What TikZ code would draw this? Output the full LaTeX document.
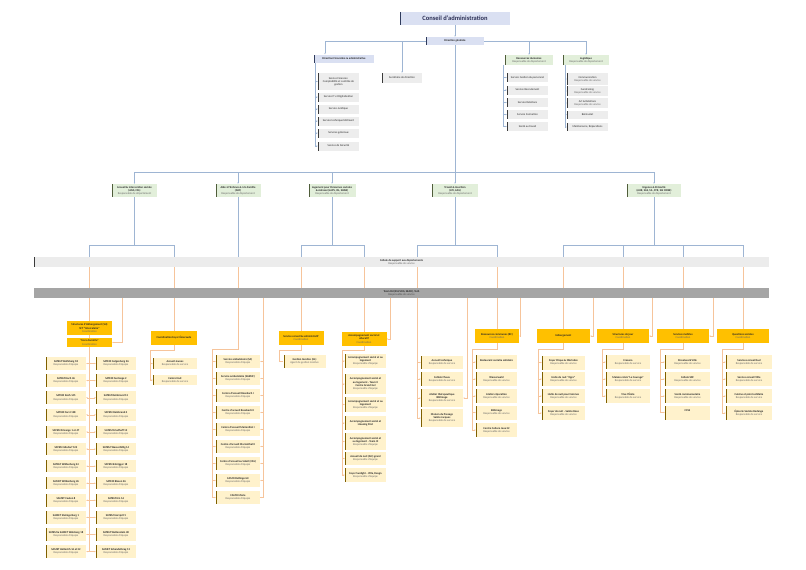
\documentclass[tikz,border=0pt]{standalone}
\usepackage{fontspec}
\setmainfont{Carlito}
\usetikzlibrary{arrows.meta,backgrounds}
\definecolor{navyfill}{HTML}{DAE0F2}
\definecolor{navybar}{HTML}{2F3B5C}
\definecolor{titlecol}{HTML}{2B2F55}
\definecolor{greyfill}{HTML}{EDEDED}
\definecolor{greybar}{HTML}{3A3A3A}
\definecolor{greenfill}{HTML}{E2EFDA}
\definecolor{greenbar}{HTML}{4F5D3A}
\definecolor{gold}{HTML}{FFC000}
\definecolor{cream}{HTML}{FFF2CC}
\definecolor{creambar}{HTML}{7F6000}
\definecolor{barone}{HTML}{ECECEC}
\definecolor{bartwo}{HTML}{A5A5A5}
\definecolor{blueline}{HTML}{9EB5D3}
\definecolor{orangeline}{HTML}{F6C49B}
\newcommand{\rolline}[1]{\\{\color{black!60}#1}}
\tikzset{
	leftbar/.style={path picture={\fill[#1] (path picture bounding box.north west) rectangle ([xshift=0.9pt]path picture bounding box.south west);}},
	box/.style={inner sep=0.4pt,align=center,text=black!85,font=\fontsize{2.8}{3.2}\selectfont},
	navybox/.style={box,fill=navyfill,leftbar=navybar},
	greybox/.style={box,fill=greyfill,leftbar=greybar,minimum width=41pt,minimum height=#1},
	greybox/.default=9pt,
	greenbox/.style={box,fill=greenfill,leftbar=greenbar,minimum width=#1,minimum height=13pt},
	headbox/.style={box,fill=gold,minimum width=#1,minimum height=14pt},
	itembox/.style={box,fill=cream,leftbar=creambar,minimum width=#1,minimum height=13pt},
	bline/.style={draw=blueline,line width=0.4pt},
	oline/.style={draw=orangeline,line width=0.4pt},
	arr/.style={-{Stealth[length=1.5pt,width=1.3pt]}}
}
\begin{document}
\begin{tikzpicture}[x=1pt,y=-1pt]
\useasboundingbox (0,0) rectangle (806,570);

% direction
\node[navybox,minimum width=110pt,minimum height=13pt,text=titlecol,font=\fontsize{6.5}{7}\selectfont\bfseries,leftbar=navybar] (ca) at (455,18.5) {Conseil d'administration};
\node[navybox,minimum width=58pt,minimum height=8pt] (dg) at (455,41) {\textbf{Direction générale}};
\node[navybox,minimum width=60pt,minimum height=8pt] (df) at (344,58.5) {\textbf{Direction Financière \& administrative}};
\node[greybox=10pt,minimum width=40pt] (sec) at (402,78) {Secrétaire de direction};
\node[greenbox=48pt,minimum height=10pt] (rh) at (529,60) {\textbf{Ressources Humaines}\rolline{Responsable de département}};
\node[greenbox=46pt,minimum height=10pt] (log) at (586,60) {\textbf{Logistique}\rolline{Responsable de département}};

\node[greybox=17pt] (f1) at (338.5,81.5) {Service Finances:\\Comptabilité et contrôle de\\gestion};
\node[greybox] (f2) at (338.5,97) {Service IT et Digitalisation};
\node[greybox] (f3) at (338.5,109) {Service Juridique};
\node[greybox] (f4) at (338.5,121) {Service technique bâtiment};
\node[greybox] (f5) at (338.5,133) {Services généraux};
\node[greybox] (f6) at (338.5,146) {Service de Sécurité};

\node[greybox] (r1) at (527.5,77.5) {Service Gestion du personnel};
\node[greybox] (r2) at (527.5,90) {Service Recrutement};
\node[greybox] (r3) at (527.5,102.5) {Service Relations};
\node[greybox] (r4) at (527.5,114.5) {Service Formation};
\node[greybox] (r5) at (527.5,126.5) {Santé au travail};

\node[greybox=12pt] (l1) at (587.5,79) {Communication\rolline{Responsable de service}};
\node[greybox=10pt] (l2) at (587.5,91) {Fundraising\rolline{Responsable de service}};
\node[greybox=10pt] (l3) at (587.5,103) {Art \& Relations\rolline{Responsable de service}};
\node[greybox=8pt] (l4) at (587.5,114.5) {Bénévolat};
\node[greybox=8pt] (l5) at (587.5,127) {Maintenance, Réparations};

% departements
\node[greenbox=45pt] (g1) at (134.5,190.5) {\textbf{Accueil \& Intervention sociale}\\\textbf{(AISS, CSL)}\rolline{Responsable de département}};
\node[greenbox=45pt] (g2) at (238,190.5) {\textbf{Aide à l'Enfance \& à la Famille}\\\textbf{(AEF)}\rolline{Responsable de département}};
\node[greenbox=47pt] (g3) at (332,190.5) {\textbf{Logement pour Personnes sociales}\\\textbf{\& Adressé (LAPS, ISL, SHAB)}\rolline{Responsable de département}};
\node[greenbox=46pt] (g4) at (455,190.5) {\textbf{Travail \& Insertion}\\\textbf{(ATI, AAS)}\rolline{Responsable de département}};
\node[greenbox=54pt] (g5) at (654,190.5) {\textbf{Urgence \& Précarité}\\\textbf{(AUR, SAS, SIL, STR, SAI CRISE)}\rolline{Responsable de département}};

\node[box,fill=barone,leftbar=greybar,minimum width=735pt,minimum height=10pt] (sup) at (401.5,262) {\textbf{Cellule de support aux départements}\rolline{Responsable de service}};
\node[box,fill=bartwo,minimum width=735pt,minimum height=10pt] (team) at (401.5,293) {\textbf{Team RH (RH/LOG, SEAD), Tech}\\{\color{black!70}Responsable de service}};

\coordinate (k1) at (89.5,245);
\coordinate (k2) at (174,245);
\coordinate (k4) at (301,245);
\coordinate (k5) at (364,245);
\coordinate (k6) at (417,245);
\coordinate (k7) at (497,245);
\coordinate (k8) at (563.5,245);
\coordinate (k9) at (623,245);
\coordinate (k10) at (683,245);
\coordinate (k11) at (743,245);

% coordinations
\node[headbox=45pt] (h1a) at (89.5,328) {\textbf{Structures d'Hébergement (SH)}\\\textbf{SFT “intercalaire”}\rolline{Coordination}};
\node[headbox=45pt,minimum height=9pt] (h1b) at (89.5,342.5) {\textbf{“Hors domicile”}\rolline{Coordination}};
\node[headbox=46pt] (h2) at (174,338) {\textbf{Coordination Foyer Émeraude}};
\node[headbox=45pt] (h4) at (301,338) {\textbf{Service conseil \& administratif}\rolline{Coordination}};
\node[headbox=45pt] (h5) at (364,339) {\textbf{Accompagnement social et}\\\textbf{éducatif}\rolline{Coordination}};
\node[headbox=44pt] (h7) at (497,336) {\textbf{Ressources communes (RC)}\rolline{Coordination}};
\node[headbox=53pt] (h8) at (563.5,336) {\textbf{Hébergement}};
\node[headbox=52pt] (h9) at (623,336) {\textbf{Structures de jour}\rolline{Coordination}};
\node[headbox=52pt] (h10) at (683,336) {\textbf{Services mobiles}\rolline{Coordination}};
\node[headbox=52pt] (h11) at (743,336) {\textbf{Questions sociales}\rolline{Coordination}};

% equipes
\node[itembox=40pt,minimum height=12.5pt] (sa1) at (66,363.5) {\textbf{SATEM Wolfsberg 18}\rolline{Responsable d'équipe}};
\node[itembox=40pt,minimum height=12.5pt] (sa2) at (66,380.6) {\textbf{SATEM Koch 46}\rolline{Responsable d'équipe}};
\node[itembox=40pt,minimum height=12.5pt] (sa3) at (66,397.7) {\textbf{SATEM Koch 145}\rolline{Responsable d'équipe}};
\node[itembox=40pt,minimum height=12.5pt] (sa4) at (66,414.8) {\textbf{SATEM Forst 128}\rolline{Responsable d'équipe}};
\node[itembox=40pt,minimum height=12.5pt] (sa5) at (66,431.9) {\textbf{SATEM Frisange 1 et 47}\rolline{Responsable d'équipe}};
\node[itembox=40pt,minimum height=12.5pt] (sa6) at (66,449) {\textbf{SATEM Gilsdorf 122}\rolline{Responsable d'équipe}};
\node[itembox=40pt,minimum height=12.5pt] (sa7) at (66,466.1) {\textbf{SATEM Wildenberg 24}\rolline{Responsable d'équipe}};
\node[itembox=40pt,minimum height=12.5pt] (sa8) at (66,483.2) {\textbf{SAMET Wildenberg 26}\rolline{Responsable d'équipe}};
\node[itembox=40pt,minimum height=12.5pt] (sa9) at (66,500.3) {\textbf{SAMET Feulen 8}\rolline{Responsable d'équipe}};
\node[itembox=40pt,minimum height=12.5pt] (sa10) at (66,517.4) {\textbf{SAMET Steinige Berg 1}\rolline{Responsable d'équipe}};
\node[itembox=40pt,minimum height=12.5pt] (sa11) at (66,534.5) {\textbf{SATEM \& SAMET Wolsberg 18}\rolline{Responsable d'équipe}};
\node[itembox=40pt,minimum height=12.5pt] (sa12) at (66,551.6) {\textbf{SAMET Hollerich 16 et 22}\rolline{Responsable d'équipe}};

\node[itembox=40pt,minimum height=12.5pt] (sb1) at (116,363.5) {\textbf{SATEM Galgenberg 26}\rolline{Responsable d'équipe}};
\node[itembox=40pt,minimum height=12.5pt] (sb2) at (116,380.6) {\textbf{SATEM Fentange 2}\rolline{Responsable d'équipe}};
\node[itembox=40pt,minimum height=12.5pt] (sb3) at (116,397.7) {\textbf{SATEM Reinbrand 12}\rolline{Responsable d'équipe}};
\node[itembox=40pt,minimum height=12.5pt] (sb4) at (116,414.8) {\textbf{SATEM Reinbrand 4}\rolline{Responsable d'équipe}};
\node[itembox=40pt,minimum height=12.5pt] (sb5) at (116,431.9) {\textbf{SATEM Friedhaff 13}\rolline{Responsable d'équipe}};
\node[itembox=40pt,minimum height=12.5pt] (sb6) at (116,449) {\textbf{SATEM Wasserbillig 14}\rolline{Responsable d'équipe}};
\node[itembox=40pt,minimum height=12.5pt] (sb7) at (116,466.1) {\textbf{SATEM Esbrigger 18}\rolline{Responsable d'équipe}};
\node[itembox=40pt,minimum height=12.5pt] (sb8) at (116,483.2) {\textbf{SATEM Bissen 26}\rolline{Responsable d'équipe}};
\node[itembox=40pt,minimum height=12.5pt] (sb9) at (116,500.3) {\textbf{SATEM Ern 16}\rolline{Responsable d'équipe}};
\node[itembox=40pt,minimum height=12.5pt] (sb10) at (116,517.4) {\textbf{SATEM Herzprit 5}\rolline{Responsable d'équipe}};
\node[itembox=40pt,minimum height=12.5pt] (sb11) at (116,534.5) {\textbf{SATEM Wellenstein 48}\rolline{Responsable d'équipe}};
\node[itembox=40pt,minimum height=12.5pt] (sb12) at (116,551.6) {\textbf{SAMET Schandelbrag 13}\rolline{Responsable d'équipe}};

\node[itembox=44pt,minimum height=11pt] (fe1) at (175,363.5) {\textbf{Accueil Jeunes}\rolline{Responsable de service}};
\node[itembox=44pt,minimum height=10pt] (fe2) at (175,380) {\textbf{Centre Nuit}\rolline{Responsable de service}};

\node[itembox=44pt] (am1) at (238,361.5) {\textbf{Service ambulatoire (SA)}\rolline{Responsable d'équipe}};
\node[itembox=44pt] (am2) at (238,378.5) {\textbf{Service ambulatoire (SAEMF)}\rolline{Responsable d'équipe}};
\node[itembox=44pt] (am3) at (238,395.5) {\textbf{Centre d'accueil Rosebach I}\rolline{Responsable d'équipe}};
\node[itembox=44pt] (am4) at (238,412.5) {\textbf{Centre d'accueil Rosebach II}\rolline{Responsable d'équipe}};
\node[itembox=44pt] (am5) at (238,429.5) {\textbf{Centre d'accueil Marienthal I}\rolline{Responsable d'équipe}};
\node[itembox=44pt] (am6) at (238,446.5) {\textbf{Centre d'accueil Marienthal II}\rolline{Responsable d'équipe}};
\node[itembox=44pt] (am7) at (238,463.5) {\textbf{Centre d'accueil au Soleil (CAS)}\rolline{Responsable d'équipe}};
\node[itembox=44pt] (am8) at (238,480.5) {\textbf{CAMO Dellingerstr}\rolline{Responsable d'équipe}};
\node[itembox=44pt] (am9) at (238,497.5) {\textbf{CAMO Marie}\rolline{Responsable d'équipe}};

\node[itembox=42pt] (gl1) at (304.5,361.5) {\textbf{Gestion locative (GL)}\rolline{Agent de gestion locative}};

\node[itembox=41pt,minimum height=14pt] (as1) at (365.5,361) {\textbf{Accompagnement social et au}\\\textbf{logement}\rolline{Responsable d'équipe}};
\node[itembox=41pt,minimum height=20pt] (as2) at (365.5,384) {\textbf{Accompagnement social et}\\\textbf{au logement - Team II}\\\textbf{Centre Grand Gel}\rolline{Responsable d'équipe}};
\node[itembox=41pt,minimum height=15pt] (as3) at (365.5,404.5) {\textbf{Accompagnement social et au}\\\textbf{logement}\rolline{Responsable d'équipe}};
\node[itembox=41pt,minimum height=14pt] (as4) at (365.5,423) {\textbf{Accompagnement social et}\\\textbf{Housing First}};
\node[itembox=41pt,minimum height=17pt] (as5) at (365.5,441.5) {\textbf{Accompagnement social et}\\\textbf{au logement - Team III}\rolline{Responsable d'équipe}};
\node[itembox=41pt] (as6) at (365.5,458.5) {\textbf{Accueil de nuit (AN) grand}\rolline{Responsable d'équipe}};
\node[itembox=41pt,minimum height=14pt] (as7) at (365.5,475) {\textbf{Foyer Sunlight - Villa, Reagn}\rolline{Responsable d'équipe}};

\node[itembox=42pt] (at1) at (442,362.5) {\textbf{Accueil technique}\rolline{Responsable de service}};
\node[itembox=42pt,minimum height=14pt] (at2) at (442,379) {\textbf{Cellule Chaux}\rolline{Responsable de service}};
\node[itembox=42pt,minimum height=18pt] (at3) at (442,398) {\textbf{Atelier thérapeutique}\\\textbf{Bâtimage}\rolline{Responsable de service}};
\node[itembox=42pt,minimum height=18pt] (at4) at (442,418) {\textbf{Maison du Passage}\\\textbf{Sainte Jacques}\rolline{Responsable de service}};

\node[itembox=41pt,minimum height=14pt] (rc1) at (496.5,362) {\textbf{Restaurant social \& solidaire}\\~};
\node[itembox=41pt,minimum height=14pt] (rc2) at (496.5,379) {\textbf{Wasserwald}\rolline{Responsable de service}};
\node[itembox=41pt,minimum height=14pt] (rc3) at (496.5,396) {\textbf{Atelier réparation}\rolline{Responsable de service}};
\node[itembox=41pt,minimum height=14pt] (rc4) at (496.5,412.5) {\textbf{Bâtimage}\rolline{Responsable de service}};
\node[itembox=41pt,minimum height=14pt] (rc5) at (496.5,430) {\textbf{Centre Culture Jeux 22}\rolline{Responsable de service}};

\node[itembox=43pt,minimum height=14pt] (hb1) at (563.5,362.5) {\textbf{Foyer Clique \& Mérindes}\rolline{Responsable de service}};
\node[itembox=43pt,minimum height=14pt] (hb2) at (563.5,379) {\textbf{Halte de nuit “Ogre”}\rolline{Responsable de service}};
\node[itembox=43pt,minimum height=14pt] (hb3) at (563.5,396) {\textbf{Halte de nuit pour femmes}\rolline{Responsable de service}};
\node[itembox=43pt,minimum height=14pt] (hb4) at (563.5,413) {\textbf{Foyer de nuit - Sainte Rose}\rolline{Responsable de service}};

\node[itembox=44pt,minimum height=14pt] (sj1) at (628,362) {\textbf{Creasna}\rolline{Responsable de service}};
\node[itembox=44pt,minimum height=14pt] (sj2) at (628,379) {\textbf{Maison relais “Le Courage”}\rolline{Responsable de service}};
\node[itembox=44pt,minimum height=14pt] (sj3) at (628,396) {\textbf{Vive l'École}\rolline{Responsable de service}};

\node[itembox=45pt,minimum height=14pt] (sm1) at (687.5,362) {\textbf{Streetwork Ville}\rolline{Responsable de service}};
\node[itembox=45pt,minimum height=14pt] (sm2) at (687.5,379) {\textbf{Cellule SDF}\rolline{Responsable de service}};
\node[itembox=45pt,minimum height=14pt] (sm3) at (687.5,396) {\textbf{Santé communautaire}\rolline{Responsable de service}};
\node[itembox=45pt,minimum height=14pt] (sm4) at (687.5,412.5) {\textbf{CCSS}\\~};

\node[itembox=46pt,minimum height=14pt] (qs1) at (749,362) {\textbf{Services conseil Sud}\rolline{Responsable de service}};
\node[itembox=46pt,minimum height=14pt] (qs2) at (749,379) {\textbf{Service conseil Ville}\rolline{Responsable de service}};
\node[itembox=46pt,minimum height=14pt] (qs3) at (749,396) {\textbf{Cuisine et point solidaire}\rolline{Responsable de service}};
\node[itembox=46pt,minimum height=14pt] (qs4) at (749,413) {\textbf{Épicerie Sociale Redange}\rolline{Responsable de service}};

\coordinate (e1) at (122,300);
\coordinate (e3) at (263,300);
\coordinate (e5) at (390,300);
\coordinate (e6) at (467,300);
\coordinate (e7) at (520,300);
\coordinate (e8) at (593,300);
\coordinate (e9) at (652,300);
\coordinate (e10) at (713,300);

\begin{scope}[on background layer]
	% haut
	\draw[bline,arr] (ca) -- (dg);
	\draw[bline,arr] (dg.west) -| ([xshift=-19pt]df.north);
	\draw[bline,arr] (dg.west) -| (sec.north);
	\draw[bline,arr] (dg.east) -| (rh.north);
	\draw[bline,arr] (dg.east) -| (log.north);
	\coordinate (dfl) at ([xshift=1pt]df.south west);
	\coordinate (rhl) at ([xshift=-2pt]rh.south west);
	\coordinate (logl) at ([xshift=2pt]log.south west);
	\draw[bline] (dfl) -- (dfl |- f6.west);
	\foreach \i in {1,...,6} \draw[bline,arr] (dfl |- f\i.west) -- (f\i.west);
	\draw[bline] (rhl) -- (rhl |- r5.west);
	\foreach \i in {1,...,5} \draw[bline,arr] (rhl |- r\i.west) -- (r\i.west);
	\draw[bline] (logl) -- (logl |- l5.west);
	\foreach \i in {1,...,5} \draw[bline,arr] (logl |- l\i.west) -- (l\i.west);

	% departements
	\coordinate (hub) at (455,172);
	\draw[bline] (dg.south) -- (hub);
	\foreach \g in {g1,g2,g3,g4,g5} \draw[bline,arr] (hub) -| (\g.north);
	\draw[bline] (g1.south) -- (g1.south |- k1);
	\draw[bline] (k1) -- (k2);
	\draw[bline] (g3.south) -- (g3.south |- k4);
	\draw[bline] (k4) -- (k5);
	\draw[bline] (g4.south) -- (g4.south |- k6);
	\draw[bline] (k6) -- (k7);
	\draw[bline] (g5.south) -- (g5.south |- k8);
	\draw[bline] (k8) -- (k11);
	\draw[bline] (g2.south) -- (g2.south |- sup.north);
	\foreach \k in {k1,k2,k4,k5,k6,k7,k8,k9,k10,k11} \draw[bline] (\k) -- (\k |- sup.north);

	% vers les coordinations
	\foreach \k/\h in {k1/h1a,k2/h2,k4/h4,k5/h5,k7/h7,k8/h8,k9/h9,k10/h10,k11/h11} \draw[oline] (\k |- sup.south) -- (\h.north);
	\draw[oline] (g2.south |- sup.south) -- ([yshift=6pt]am1.north) -| ([xshift=-4pt]am9.west);
	\draw[oline] (k6 |- sup.south) -- (k6 |- at4.west);
	\foreach \e/\h in {e1/h1b,e5/h5,e6/at3,e7/h7,e8/h8,e9/h9,e10/h10} \draw[oline,arr] (team.south -| \e) |- (\h.east);
	\draw[oline] (team.south -| e3) |- (am9.east);

	% equipes
	\draw[oline] (h1a.south) -- (h1b.north);
	\draw[oline] (h1b.south) -- (h1b.south |- sa12.east);
	\foreach \i in {1,...,12} {
		\draw[oline,arr] (h1b.south |- sa\i.east) -- (sa\i.east);
		\draw[oline,arr] (h1b.south |- sb\i.west) -- (sb\i.west);
	}
	\draw[oline] (h2.south) -- ++(0,5) -| ([xshift=-3pt]fe2.west);
	\foreach \i in {1,2} \draw[oline,arr] ([xshift=-3pt]fe\i.west) -- (fe\i.west);
	\foreach \i in {1,...,9} {
		\draw[oline,arr] ([xshift=-4pt]am\i.west) -- (am\i.west);
		\draw[oline,arr] (e3 |- am\i.east) -- (am\i.east);
	}
	\draw[oline] (h4.south) -- ++(0,5) -| ([xshift=-4pt]gl1.west) -- (gl1.west);
	\draw[oline] (h5.south) -- ++(0,4) -| ([xshift=-3pt]as7.west);
	\foreach \i in {1,...,7} \draw[oline,arr] ([xshift=-3pt]as\i.west) -- (as\i.west);
	\foreach \i in {1,...,4} \draw[oline,arr] (k6 |- at\i.west) -- (at\i.west);
	\draw[oline] (h7.south) -- ++(0,6) -| ([xshift=-4pt]rc5.west);
	\foreach \i in {1,...,5} \draw[oline,arr] ([xshift=-4pt]rc\i.west) -- (rc\i.west);
	\draw[oline] (h8.south) -- ++(0,6) -| ([xshift=-4pt]hb4.west);
	\foreach \i in {1,...,4} \draw[oline,arr] ([xshift=-4pt]hb\i.west) -- (hb\i.west);
	\draw[oline] (h9.south) -- ++(0,6) -| ([xshift=-4pt]sj3.west);
	\foreach \i in {1,...,3} \draw[oline,arr] ([xshift=-4pt]sj\i.west) -- (sj\i.west);
	\draw[oline] (h10.south) -- ++(0,6) -| ([xshift=-5pt]sm4.west);
	\foreach \i in {1,...,4} \draw[oline,arr] ([xshift=-5pt]sm\i.west) -- (sm\i.west);
	\draw[oline] (h11.south) -- ++(0,6) -| ([xshift=-4pt]qs4.west);
	\foreach \i in {1,...,4} \draw[oline,arr] ([xshift=-4pt]qs\i.west) -- (qs\i.west);
\end{scope}
\end{tikzpicture}
\end{document}
